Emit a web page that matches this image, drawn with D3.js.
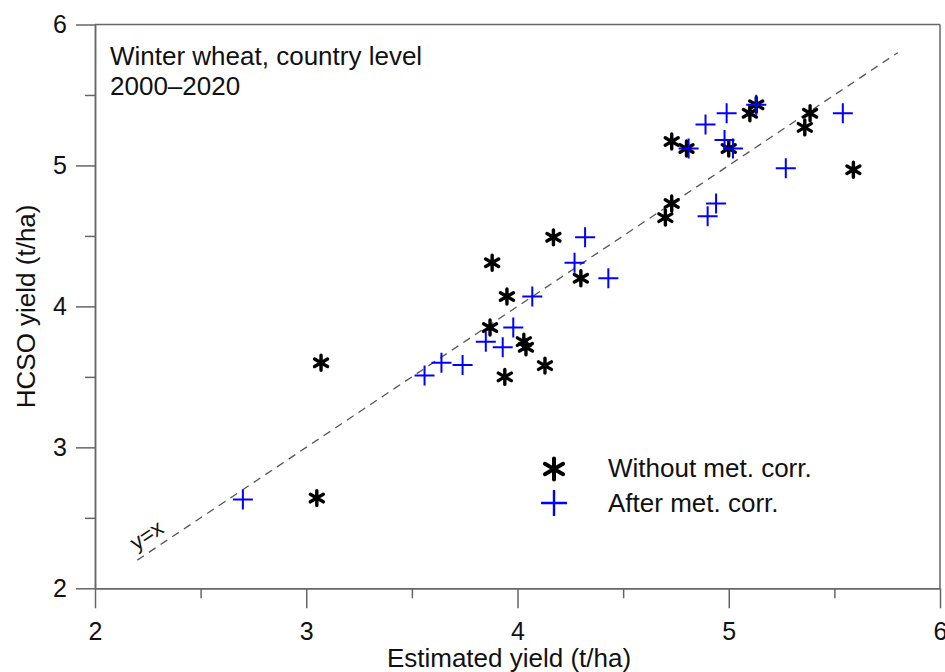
<!DOCTYPE html>
<html>
<head>
<meta charset="utf-8">
<script src="https://cdn.jsdelivr.net/npm/d3@7"></script>
<style>
  html, body { margin: 0; padding: 0; background: #fff; }
  svg { display: block; font-family: "Liberation Sans", Arial, Helvetica, sans-serif; }
</style>
</head>
<body>
<svg id="chart" width="945" height="672"></svg>
<script>
// ---- data (t/ha) ----
const estimatedWithout = [3.07, 3.05, 3.88, 3.95, 3.87, 4.03, 4.04, 3.94, 4.13, 4.17, 4.30, 4.73, 4.70, 4.73, 4.80, 5.00, 5.10, 5.13, 5.385, 5.36, 5.59];
const hcsoWithout      = [3.60, 2.64, 4.31, 4.07, 3.85, 3.75, 3.71, 3.50, 3.58, 4.49, 4.20, 4.73, 4.63, 5.17, 5.12, 5.12, 5.37, 5.43, 5.37, 5.27, 4.97];
const estimatedAfter   = [2.70, 3.56, 3.64, 3.74, 3.85, 3.93, 3.98, 4.07, 4.27, 4.32, 4.43, 4.90, 4.94, 4.81, 4.89, 4.99, 4.98, 5.02, 5.13, 5.54, 5.27];
const hcsoAfter        = [2.63, 3.51, 3.60, 3.585, 3.75, 3.71, 3.85, 4.07, 4.31, 4.49, 4.20, 4.64, 4.73, 5.12, 5.29, 5.37, 5.18, 5.12, 5.43, 5.37, 4.98];
const majorTicks = [2, 3, 4, 5, 6];
const minorTicks = [2.5, 3.5, 4.5, 5.5];
const identityLine = [2.2, 5.8];
const seriesNames = ["Without met. corr.", "After met. corr."];
const annotation = ["Winter wheat, country level", "2000\u20132020"];
const xTitle = "Estimated yield (t/ha)";
const yTitle = "HCSO yield (t/ha)";

// ---- layout ----
const svg = d3.select("#chart");
const L = 95, R = 940, T = 24.5, B = 588.3;
const x = d3.scaleLinear().domain([2, 6]).range([L, R]);
const y = d3.scaleLinear().domain([2, 6]).range([B, T]);
const axisColor = "#666";
const FS = 25;

// axes
svg.append("g").attr("transform", `translate(0,${B})`)
  .call(d3.axisBottom(x).tickValues(majorTicks).tickSize(20).tickSizeOuter(0).tickPadding(14).tickFormat(d3.format("d")));
svg.append("g").attr("transform", `translate(0,${B})`)
  .call(d3.axisBottom(x).tickValues(minorTicks).tickSize(10).tickSizeOuter(0).tickFormat(""));
svg.append("g").attr("transform", `translate(${L},0)`)
  .call(d3.axisLeft(y).tickValues(majorTicks).tickSize(19).tickSizeOuter(0).tickPadding(9).tickFormat(d3.format("d")));
svg.append("g").attr("transform", `translate(${L},0)`)
  .call(d3.axisLeft(y).tickValues(minorTicks).tickSize(10).tickSizeOuter(0).tickFormat(""));

svg.selectAll(".domain, .tick line").attr("stroke", axisColor).attr("stroke-width", 1.5);
svg.selectAll(".tick text").attr("font-size", FS).attr("fill", "#111")
  .attr("font-family", "'Liberation Sans', Arial, sans-serif");

// frame top / right
svg.append("line").attr("x1", L).attr("x2", R).attr("y1", T).attr("y2", T)
  .attr("stroke", axisColor).attr("stroke-width", 1.5);
svg.append("line").attr("x1", R).attr("x2", R).attr("y1", T).attr("y2", B)
  .attr("stroke", axisColor).attr("stroke-width", 1.5);

// axis titles
svg.append("text").attr("x", 509).attr("y", 667).attr("text-anchor", "middle")
  .attr("font-size", 26).attr("fill", "#111").text(xTitle);
svg.append("text").attr("transform", `translate(35,${(T + B) / 2}) rotate(-90)`).attr("text-anchor", "middle")
  .attr("font-size", 26).attr("fill", "#111").text(yTitle);

// annotation
svg.append("text").attr("x", 110).attr("y", 65).attr("font-size", 26).attr("fill", "#111").text(annotation[0]);
svg.append("text").attr("x", 110).attr("y", 95).attr("font-size", 26).attr("fill", "#111").text(annotation[1]);

// y = x dashed line
svg.append("line")
  .attr("x1", x(identityLine[0])).attr("y1", y(identityLine[0]))
  .attr("x2", x(identityLine[1])).attr("y2", y(identityLine[1]))
  .attr("stroke", "#555").attr("stroke-width", 1.3).attr("stroke-dasharray", "8,6");
const ang = Math.atan2(y(identityLine[0]) - y(identityLine[1]), x(identityLine[1]) - x(identityLine[0])) * 180 / Math.PI;
svg.append("text")
  .attr("transform", `translate(${x(identityLine[0]) - 1},${y(identityLine[0]) - 9}) rotate(${-ang})`)
  .attr("font-size", 22).attr("fill", "#111").text("y=x");

// markers
function asteriskPath(r) {
  let p = "";
  [90, 30, 150].forEach(a => {
    const t = a * Math.PI / 180, dx = r * Math.cos(t), dy = r * Math.sin(t);
    p += `M${-dx},${-dy}L${dx},${dy}`;
  });
  return p;
}
function plusPath(r) { return `M${-r},0L${r},0M0,${-r}L0,${r}`; }

const withoutData = estimatedWithout.map((e, i) => ({ e, h: hcsoWithout[i] }));
const afterData = estimatedAfter.map((e, i) => ({ e, h: hcsoAfter[i] }));

svg.append("g").selectAll("path").data(withoutData).join("path")
  .attr("transform", d => `translate(${x(d.e)},${y(d.h)})`)
  .attr("d", asteriskPath(7.5)).attr("stroke", "#000").attr("stroke-width", 3.4)
  .attr("stroke-linecap", "round").attr("fill", "none");
svg.append("g").selectAll("path").data(afterData).join("path")
  .attr("transform", d => `translate(${x(d.e)},${y(d.h)})`)
  .attr("d", plusPath(10)).attr("stroke", "#0000ff").attr("stroke-width", 2).attr("fill", "none");

// legend
const lg = svg.append("g");
lg.append("path").attr("transform", "translate(554,469)").attr("d", asteriskPath(10.5))
  .attr("stroke", "#000").attr("stroke-width", 4).attr("stroke-linecap", "round").attr("fill", "none");
lg.append("path").attr("transform", "translate(554,503)").attr("d", plusPath(13))
  .attr("stroke", "#0000ff").attr("stroke-width", 2.4).attr("fill", "none");
lg.append("text").attr("x", 608).attr("y", 477).attr("font-size", 26).attr("fill", "#111").text(seriesNames[0]);
lg.append("text").attr("x", 608).attr("y", 512).attr("font-size", 26).attr("fill", "#111").text(seriesNames[1]);
</script>
</body>
</html>
